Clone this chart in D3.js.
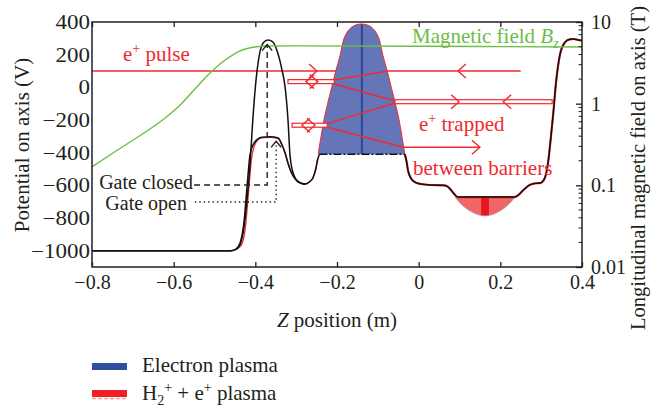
<!DOCTYPE html>
<html><head><meta charset="utf-8">
<script src="https://cdn.jsdelivr.net/npm/d3@7"></script>
<style>
body{margin:0;background:#fff}
svg{display:block}
</style>
</head><body>
<svg id="c" width="663" height="409"></svg>
<script>
// ---------- data ----------
const zTicks = [-0.8, -0.6, -0.4, -0.2, 0, 0.2, 0.4];
const potTicks = [-1000, -800, -600, -400, -200, 0, 200, 400];
const fieldTicks = [0.01, 0.1, 1, 10];

// gate closed potential (outer black curve, left part)
const closedZ = [-0.8, -0.46, -0.447, -0.437, -0.428, -0.42, -0.413, -0.407, -0.40, -0.39, -0.38, -0.369, -0.358, -0.345, -0.335, -0.327, -0.32, -0.315, -0.308, -0.3, -0.29, -0.278, -0.268, -0.259, -0.252, -0.247, -0.243];
const closedV = [-1000, -1000, -990, -960, -860, -680, -470, -230, 0, 200, 275, 290, 280, 210, 110, 0, -200, -420, -520, -565, -585, -592, -580, -555, -500, -440, -410];

// gate open potential (inner black curve, left part)
const openZ = [-0.8, -0.46, -0.447, -0.437, -0.428, -0.42, -0.413, -0.405, -0.395, -0.384, -0.364, -0.344, -0.335, -0.327, -0.32, -0.312, -0.303, -0.29, -0.278];
const openV = [-1000, -1000, -990, -950, -830, -600, -410, -350, -318, -306, -302, -310, -350, -402, -463, -520, -558, -585, -592];

// red potential (left part)
const redZ = [-0.8, -0.46, -0.445, -0.433, -0.424, -0.416, -0.409, -0.402, -0.393, -0.382, -0.364, -0.344, -0.335, -0.327, -0.32, -0.312, -0.303, -0.29, -0.278, -0.268, -0.259, -0.252, -0.248];
const redV = [-1000, -1000, -990, -960, -850, -620, -430, -355, -320, -308, -306, -314, -352, -405, -466, -522, -560, -586, -593, -580, -555, -500, -440];

// vacuum well holding the electron plasma
const wellZ = [-0.246, -0.239, -0.232, -0.223, -0.213, -0.203, -0.192, -0.184, -0.177, -0.168, -0.156, -0.14, -0.124, -0.112, -0.103, -0.096, -0.088, -0.077, -0.067, -0.057, -0.048, -0.041, -0.034];
const wellV = [-410, -300, -200, -100, 0, 100, 200, 290, 330, 360, 380, 388, 380, 360, 330, 290, 200, 100, 0, -100, -200, -300, -410];
const plasmaLevel = -410;
const plasmaCenter = -0.139;

// right part of potential (common)
const rightZ = [-0.034, -0.03, -0.026, -0.018, -0.008, 0.005, 0.028, 0.06, 0.07, 0.078, 0.086, 0.096, 0.163, 0.235, 0.244, 0.256, 0.27, 0.285, 0.298, 0.306, 0.312, 0.318, 0.324, 0.33, 0.336, 0.346, 0.358, 0.37, 0.38, 0.39, 0.4];
const rightV = [-410, -450, -510, -560, -582, -592, -598, -600, -606, -625, -650, -672, -672, -672, -660, -630, -600, -588, -586, -570, -530, -440, -300, -150, 20, 200, 275, 294, 296, 290, 285];

// H2+ + e+ plasma bowl
const bowlZ = [0.089, 0.1, 0.113, 0.128, 0.145, 0.1625, 0.18, 0.197, 0.212, 0.225, 0.236];
const bowlV = [-672, -705, -735, -760, -780, -787, -780, -760, -735, -705, -672];
const bowlTop = -672;
const bowlBar = [0.153, 0.172];

// magnetic field on axis (T)
const fieldZ = [-0.8, -0.756, -0.707, -0.658, -0.621, -0.584, -0.548, -0.511, -0.474, -0.438, -0.401, -0.371, -0.3, 0, 0.2, 0.4];
const fieldB = [0.168, 0.235, 0.339, 0.489, 0.668, 0.963, 1.51, 2.37, 3.42, 4.41, 4.94, 5.08, 5.1, 5.05, 5.0, 4.95];

// positron beam
const pulseLine = [[-0.8, 100], [0.25, 100]];
const beamLines = [
  [[-0.207, 45], [-0.075, 100]],
  [[-0.207, 20], [-0.058, -84]],
  [[-0.058, -96], [-0.224, -222]],
  [[-0.224, -245], [-0.038, -367]],
  [[-0.038, -367], [0.15, -367]]
];
const hollowBars = [[-0.32, -0.207, 35], [-0.058, 0.327, -88], [-0.31, -0.224, -232]];
const arrowHeads = [[-0.249, 100, 1], [0.096, 100, -1], [-0.276, 35, -1], [-0.247, 35, 1], [0.099, -88, 1], [0.207, -88, -1], [-0.286, -232, -1], [-0.254, -232, 1], [0.15, -367, 1]];

// gate markers
const gateClosedLine = [[-0.55, -598], [-0.371, -598], [-0.371, 262]];
const gateOpenLine = [[-0.548, -702], [-0.349, -702], [-0.349, -330]];

// ---------- drawing ----------
const FONT = "'Liberation Serif','Times New Roman','DejaVu Serif',serif";
const svg = d3.select("#c").attr("font-family", FONT);
const L = 92, R = 582, T = 22, B = 267;
const x = d3.scaleLinear().domain([-0.8, 0.4]).range([L, R]);
const y = d3.scaleLinear().domain([-1100, 400]).range([B, T]);
const yB = d3.scaleLog().domain([0.01, 10]).range([B, T]);

const RED = "#ee2b2f", GREEN = "#6cbd45", BLACK = "#111", INK = "#231f20";

svg.append("rect").attr("width", 663).attr("height", 409).attr("fill", "#fff");

const line = d3.line().x(d => x(d[0])).y(d => y(d[1])).curve(d3.curveMonotoneX);
const lin = d3.line().x(d => x(d[0])).y(d => y(d[1]));

const defs = svg.append("defs");
defs.append("clipPath").attr("id", "plot").append("rect").attr("x", L).attr("y", T).attr("width", R - L).attr("height", B - T);

const g = svg.append("g").attr("clip-path", "url(#plot)");

// pulse line (under plasma)
g.append("path").attr("d", lin(pulseLine)).attr("stroke", RED).attr("stroke-width", 1.5).attr("fill", "none");

// electron plasma
const well = d3.zip(wellZ, wellV);
const wellArea = d3.area().x(d => x(d[0])).y0(y(plasmaLevel)).y1(d => y(d[1])).curve(d3.curveMonotoneX);
defs.append("clipPath").attr("id", "wellclip").append("path").attr("d", wellArea(well));
g.append("path").attr("d", wellArea(well)).attr("fill", "#6476b8");
g.append("line").attr("clip-path", "url(#wellclip)")
  .attr("x1", x(plasmaCenter)).attr("x2", x(plasmaCenter))
  .attr("y1", y(400)).attr("y2", y(plasmaLevel))
  .attr("stroke", "#2a479c").attr("stroke-width", 2);

// positron + H2 plasma bowl
const bowl = d3.zip(bowlZ, bowlV);
const bowlArea = d3.area().x(d => x(d[0])).y0(y(bowlTop)).y1(d => y(d[1])).curve(d3.curveMonotoneX);
defs.append("clipPath").attr("id", "bowlclip").append("path").attr("d", bowlArea(bowl));
g.append("path").attr("d", bowlArea(bowl)).attr("fill", "#f06565");
g.append("rect").attr("clip-path", "url(#bowlclip)")
  .attr("x", x(bowlBar[0])).attr("width", x(bowlBar[1]) - x(bowlBar[0]))
  .attr("y", y(bowlTop)).attr("height", y(-800) - y(bowlTop)).attr("fill", "#e8151c");
g.append("path").attr("d", line(bowl)).attr("fill", "none").attr("stroke", "#a8a0d0").attr("stroke-width", 0.8);

// red potential curves
g.append("path").attr("d", line(d3.zip(redZ, redV))).attr("stroke", RED).attr("stroke-width", 1.3).attr("fill", "none");
g.append("path").attr("d", line(well)).attr("stroke", RED).attr("stroke-width", 1).attr("fill", "none");
g.append("path").attr("d", line(d3.zip(rightZ, rightV))).attr("stroke", RED).attr("stroke-width", 2.2).attr("fill", "none");

// black potential curves
g.append("path").attr("d", line(d3.zip(closedZ, closedV))).attr("stroke", BLACK).attr("stroke-width", 1.5).attr("fill", "none");
g.append("path").attr("d", line(d3.zip(openZ, openV))).attr("stroke", BLACK).attr("stroke-width", 1.5).attr("fill", "none");
g.append("path").attr("d", line(d3.zip(rightZ, rightV))).attr("stroke", BLACK).attr("stroke-width", 1.5).attr("fill", "none");
g.append("line").attr("x1", x(closedZ[closedZ.length - 1])).attr("x2", x(rightZ[0]))
  .attr("y1", y(plasmaLevel)).attr("y2", y(plasmaLevel))
  .attr("stroke", BLACK).attr("stroke-width", 1.6).attr("stroke-dasharray", "8,2,2,2");

// beam lines
beamLines.forEach(s => g.append("path").attr("d", lin(s)).attr("stroke", RED).attr("stroke-width", 1.5).attr("fill", "none"));
hollowBars.forEach(b => g.append("rect")
  .attr("x", x(b[0])).attr("width", x(b[1]) - x(b[0]))
  .attr("y", y(b[2]) - 2).attr("height", 4)
  .attr("fill", "#fff").attr("stroke", RED).attr("stroke-width", 1.2));
arrowHeads.forEach(a => {
  const px = x(a[0]), py = y(a[1]), d = a[2];
  g.append("path").attr("d", `M${px - d * 8},${py - 7}L${px},${py}L${px - d * 8},${py + 7}`)
    .attr("stroke", RED).attr("stroke-width", 1.4).attr("fill", "none");
});

// magnetic field
const fline = d3.line().x(d => x(d[0])).y(d => yB(d[1])).curve(d3.curveMonotoneX);
g.append("path").attr("d", fline(d3.zip(fieldZ, fieldB))).attr("stroke", GREEN).attr("stroke-width", 1.4).attr("fill", "none");

// gate markers
svg.append("path").attr("d", lin(gateClosedLine)).attr("stroke", "#222").attr("stroke-width", 1.4)
  .attr("stroke-dasharray", "6,4").attr("fill", "none");
svg.append("path").attr("d", lin(gateOpenLine)).attr("stroke", "#222").attr("stroke-width", 1.4)
  .attr("stroke-dasharray", "1.4,3").attr("fill", "none");
[gateClosedLine[2], gateOpenLine[2]].forEach(p => {
  const px = x(p[0]), py = y(p[1]);
  svg.append("path").attr("d", `M${px - 5},${py + 6}L${px},${py}L${px + 5},${py + 6}`)
    .attr("stroke", "#222").attr("stroke-width", 1.3).attr("fill", "none");
});

// ---------- axes ----------
const axL = svg.append("g").attr("transform", `translate(${L},0)`)
  .call(d3.axisLeft(y).tickValues(potTicks).tickSize(0).tickPadding(2).tickFormat(d3.format("")));
axL.select(".domain").remove();
axL.selectAll("text").attr("font-size", 20).attr("fill", INK)
  .attr("x", -2 / 1.15).attr("transform", "scale(1.15,1)");

const axB = svg.append("g").attr("transform", `translate(0,${B})`)
  .call(d3.axisBottom(x).tickValues(zTicks).tickSize(-5).tickPadding(8).tickFormat(d3.format("")));
axB.select(".domain").remove();
axB.selectAll("line").attr("stroke", INK).attr("stroke-width", 1.3);
axB.selectAll("text").attr("font-size", 20).attr("fill", INK);

const axT = svg.append("g").attr("transform", `translate(0,${T})`)
  .call(d3.axisTop(x).tickValues(zTicks).tickSize(-5).tickFormat(""));
axT.select(".domain").remove();
axT.selectAll("line").attr("stroke", INK).attr("stroke-width", 1.3);

const axR = svg.append("g").attr("transform", `translate(${R},0)`)
  .call(d3.axisRight(yB).tickValues(fieldTicks).tickSize(-6).tickPadding(9).tickFormat(d3.format("")));
axR.select(".domain").remove();
axR.selectAll("line").attr("stroke", INK).attr("stroke-width", 1.3);
axR.selectAll("text").attr("font-size", 20).attr("fill", INK);
const minor = [];
[0.01, 0.1, 1].forEach(dec => { for (let k = 2; k <= 9; k++) minor.push(dec * k); });
svg.append("g").selectAll("line").data(minor).join("line")
  .attr("x1", R - 3.5).attr("x2", R).attr("y1", d => yB(d)).attr("y2", d => yB(d))
  .attr("stroke", INK).attr("stroke-width", 1);

svg.append("rect").attr("x", L).attr("y", T).attr("width", R - L).attr("height", B - T)
  .attr("fill", "none").attr("stroke", INK).attr("stroke-width", 1.5);

// ---------- texts ----------
const FS = 21;
function txt(xp, yp, color, anchor) {
  return svg.append("text").attr("x", xp).attr("y", yp).attr("fill", color)
    .attr("font-size", FS).attr("text-anchor", anchor || "start");
}
let t = txt(123, 61, RED);
t.append("tspan").text("e");
t.append("tspan").attr("dy", -8).attr("font-size", 14).text("+");
t.append("tspan").attr("dy", 8).text(" pulse");

t = txt(412, 43, GREEN);
t.append("tspan").text("Magnetic field ");
t.append("tspan").attr("font-style", "italic").text("B");
t.append("tspan").attr("font-style", "italic").attr("font-size", 14).attr("dy", 5).text("z");

t = txt(419, 131, RED);
t.append("tspan").text("e");
t.append("tspan").attr("dy", -8).attr("font-size", 14).text("+");
t.append("tspan").attr("dy", 8).text(" trapped");

txt(413, 175, RED).text("between barriers");
txt(193, 188.5, INK, "end").attr("font-size", 20).text("Gate closed");
txt(187, 209.5, INK, "end").attr("font-size", 20).text("Gate open");

// axis titles
t = txt(337, 327, INK, "middle");
t.append("tspan").attr("font-style", "italic").text("Z");
t.append("tspan").text(" position (m)");

svg.append("text").attr("transform", "translate(29,145) rotate(-90)").attr("text-anchor", "middle")
  .attr("font-size", FS).attr("fill", INK).text("Potential on axis (V)");
svg.append("text").attr("transform", "translate(645,168) rotate(-90)").attr("text-anchor", "middle")
  .attr("font-size", 20.5).attr("fill", INK).text("Longitudinal magnetic field on axis (T)");

// legend
svg.append("rect").attr("x", 92).attr("y", 363).attr("width", 35).attr("height", 7).attr("fill", "#2e4f9f");
txt(142, 372, INK).text("Electron plasma");
svg.append("rect").attr("x", 92).attr("y", 390).attr("width", 35).attr("height", 7).attr("fill", "#ee2024");
svg.append("line").attr("x1", 92).attr("x2", 127).attr("y1", 398.5).attr("y2", 398.5)
  .attr("stroke", "#f5a0a0").attr("stroke-width", 1.5).attr("stroke-dasharray", "4,2");
t = txt(142, 400, INK);
t.append("tspan").text("H");
t.append("tspan").attr("font-size", 14).attr("dy", 5).text("2");
t.append("tspan").attr("font-size", 14).attr("dy", -13).text("+");
t.append("tspan").attr("dy", 8).text(" + e");
t.append("tspan").attr("font-size", 14).attr("dy", -8).text("+");
t.append("tspan").attr("dy", 8).text(" plasma");

// force serif font on every text
svg.selectAll("text").style("font-family", FONT);
</script>
</body></html>
